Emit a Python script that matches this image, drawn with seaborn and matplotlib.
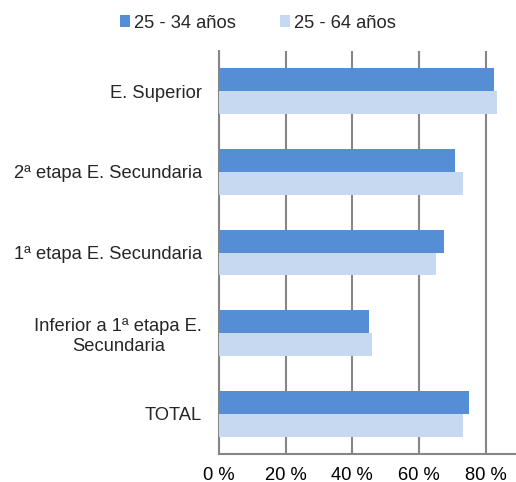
import pandas as pd
import matplotlib.pyplot as plt
import seaborn as sns
from matplotlib.patches import Patch

# Data
categorias = ['E. Superior', '2ª etapa E. Secundaria', '1ª etapa E. Secundaria',
              'Inferior a 1ª etapa E.\nSecundaria', 'TOTAL']
grupos = ['25 - 34 años', '25 - 64 años']
valores_25_34 = [82.5, 70.8, 67.5, 44.9, 74.9]
valores_25_64 = [83.4, 73.2, 65.2, 45.9, 73.2]
ticks = [0, 20, 40, 60, 80]
tick_labels = ['0 %', '20 %', '40 %', '60 %', '80 %']
colores = ['#558ED5', '#C6D9F1']

df = pd.DataFrame({
    'Nivel': categorias * 2,
    'Grupo': [grupos[0]] * len(categorias) + [grupos[1]] * len(categorias),
    'Valor': valores_25_34 + valores_25_64,
})

sns.set_style('white')
plt.rcParams['font.family'] = ['Liberation Sans', 'DejaVu Sans']
fs = 13.2

fig = plt.figure(figsize=(5.16, 4.82), dpi=100)
ax = fig.add_axes([219 / 516, 1 - 454 / 482, 1 - 219 / 516, (454 - 51) / 482])

sns.barplot(data=df, y='Nivel', x='Valor', hue='Grupo', order=categorias,
            hue_order=grupos, palette=colores, orient='h', width=0.57,
            gap=0, saturation=1, linewidth=0, ax=ax, legend=False, zorder=3)

ax.set_xlim(0, 89.1)
ax.set_xticks(ticks)
ax.set_xticklabels(tick_labels, fontsize=fs, color='#000000')
ax.tick_params(axis='x', length=0, pad=9)
ax.tick_params(axis='y', length=0, pad=12)
for lbl in ax.get_yticklabels():
    lbl.set_fontsize(fs)
    lbl.set_multialignment('center')
ax.set_xlabel('')
ax.set_ylabel('')

ax.grid(axis='x', color='#868686', linewidth=1.5, zorder=0)
ax.grid(axis='y', visible=False)
ax.set_axisbelow(True)
for s in ['top', 'right']:
    ax.spines[s].set_visible(False)
for s in ['left', 'bottom']:
    ax.spines[s].set_color('#868686')
    ax.spines[s].set_linewidth(1.5)

handles = [Patch(facecolor=c, edgecolor='none', label=g) for c, g in zip(colores, grupos)]
fig.legend(handles=handles, loc='center', bbox_to_anchor=(0.5, 1 - 23 / 482), ncol=2,
           frameon=False, fontsize=fs, handlelength=0.55, handleheight=0.55,
           handletextpad=0.2, columnspacing=2.4, borderaxespad=0)

plt.savefig('out.png', dpi=100)
